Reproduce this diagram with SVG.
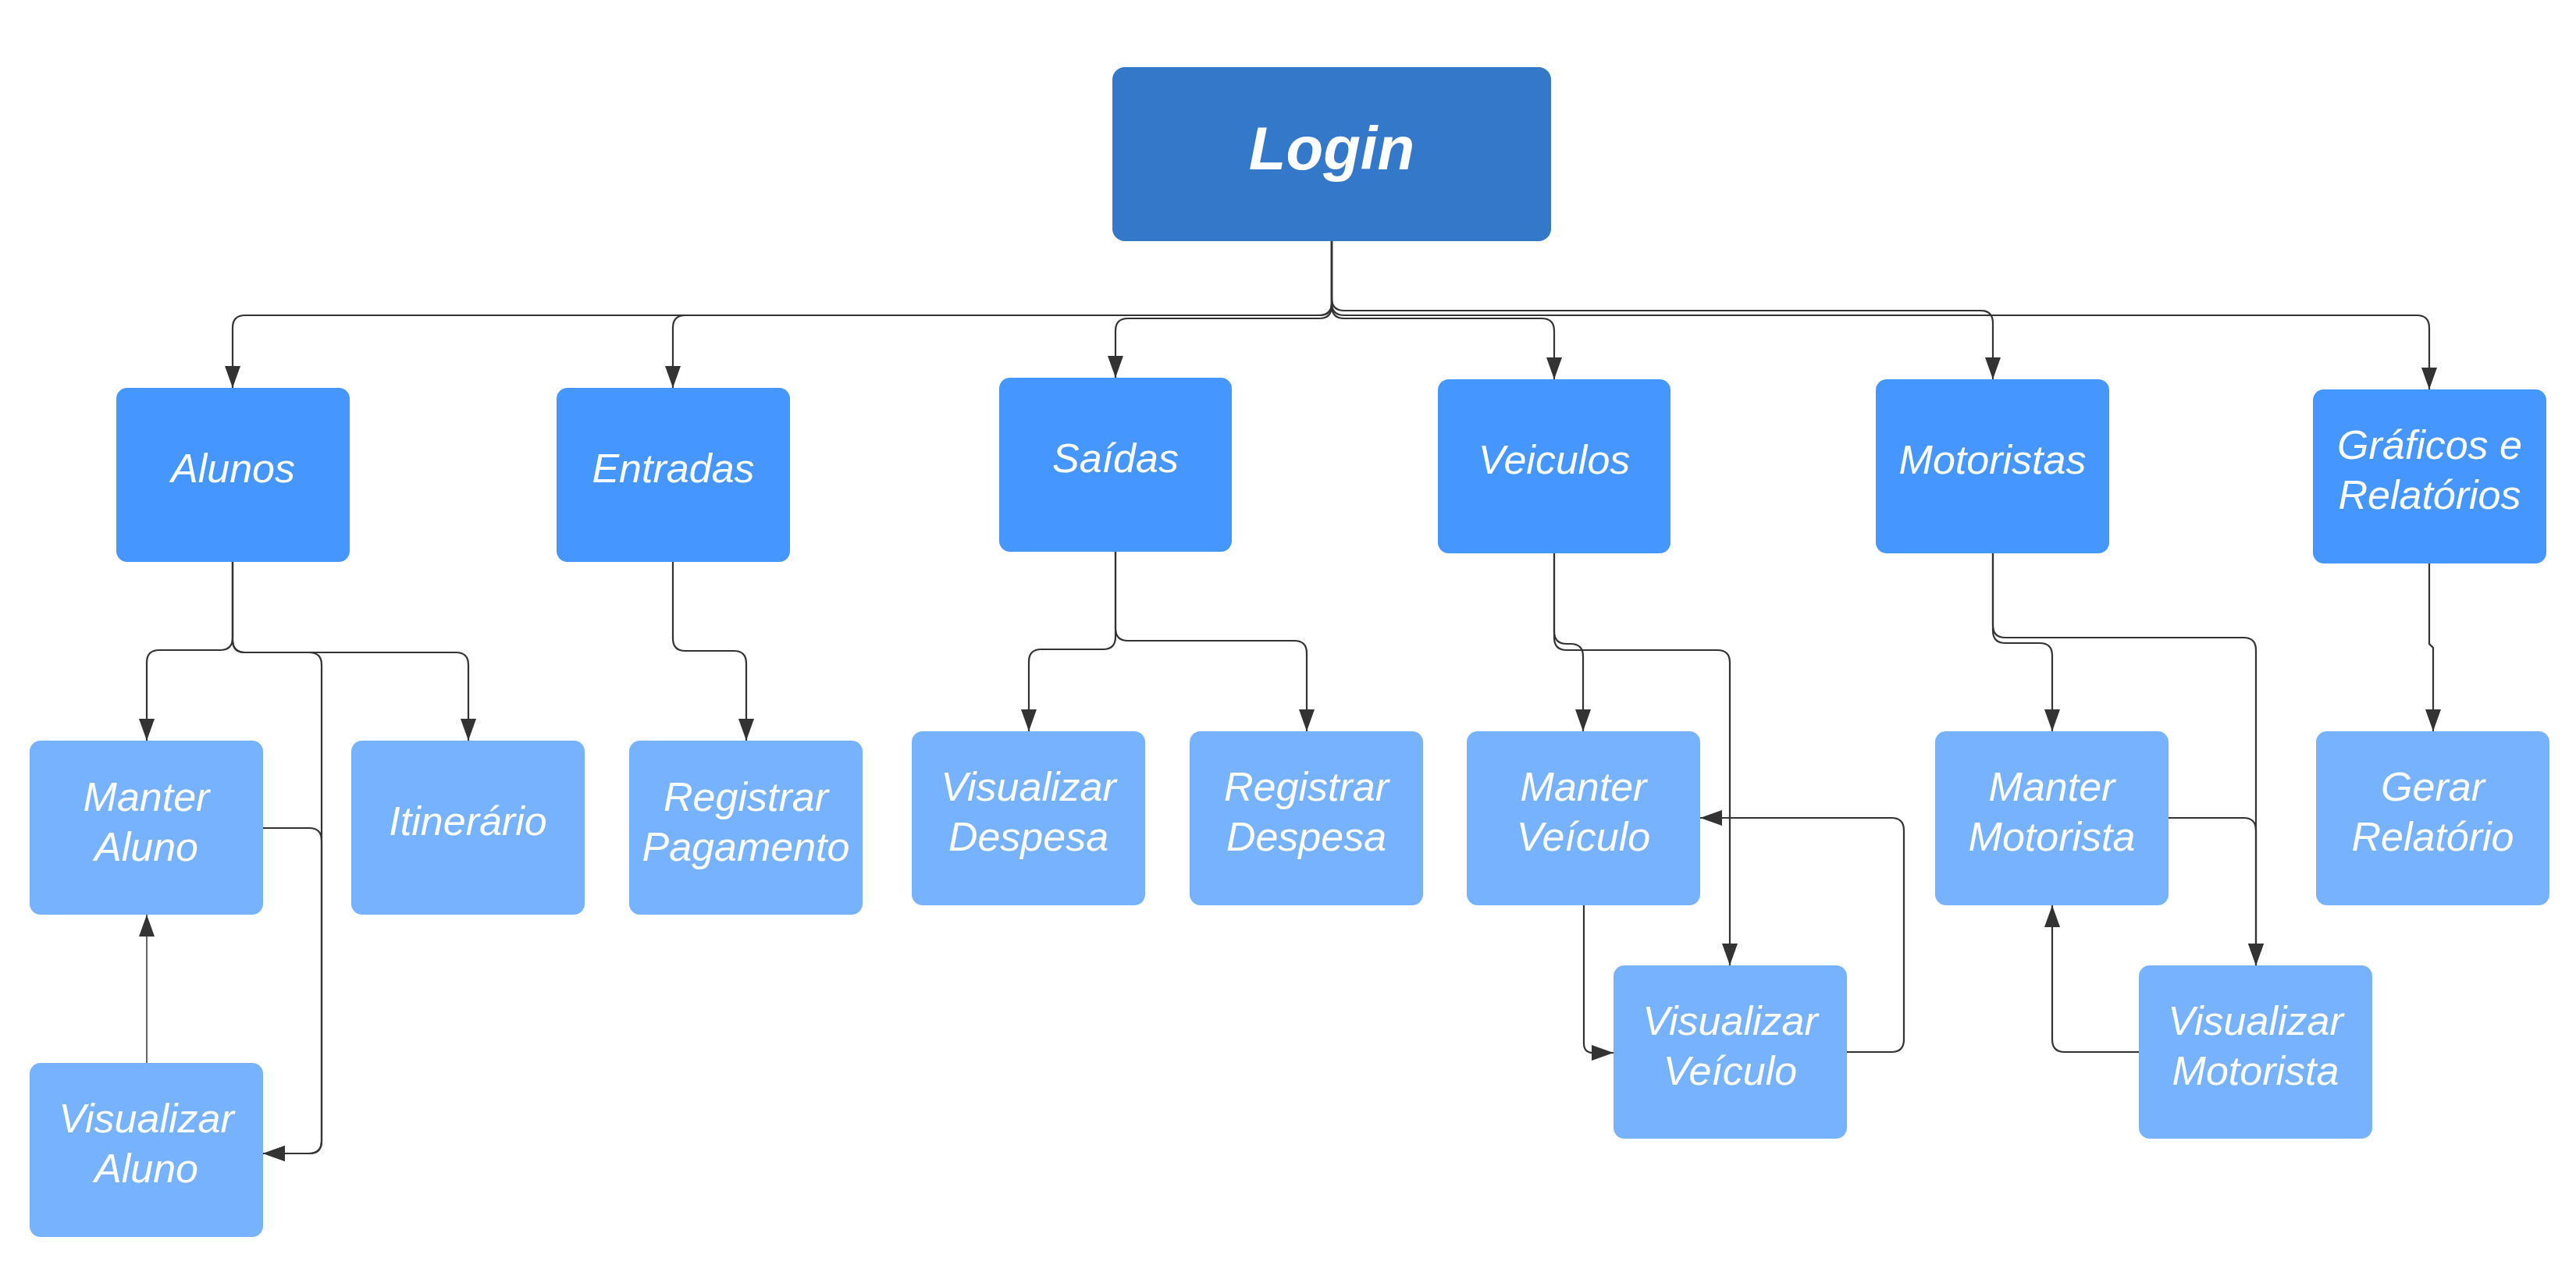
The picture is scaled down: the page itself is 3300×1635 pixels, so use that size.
<svg xmlns="http://www.w3.org/2000/svg" width="3300" height="1635" viewBox="0 0 3300 1635">
<style>
.bg{fill:#ffffff}
.n0{fill:#3378C9}
.n1{fill:#4597FF}
.n2{fill:#77B2FF}
.t{font-family:"Liberation Sans",Arial,sans-serif;font-style:italic;fill:#ffffff;text-anchor:middle;font-size:52px}
.tb{font-family:"Liberation Sans",Arial,sans-serif;font-style:italic;font-weight:bold;fill:#ffffff;text-anchor:middle;font-size:78px}
.c{fill:none;stroke:#333333;stroke-width:2.2;marker-end:url(#ah)}
.thin{stroke-width:1.5}
</style>
<defs>
<marker id="ah" markerUnits="userSpaceOnUse" markerWidth="30" markerHeight="22" refX="28" refY="10" orient="auto">
<path d="M0,0 L28,10 L0,20 Z" fill="#333333"/>
</marker>
</defs>
<rect class="bg" x="0" y="0" width="3300" height="1635"/>

<g id="connectors">
<path class="c" d="M1706,309 V388 Q1706,404 1690,404 H314 Q298,404 298,420 V497"/>
<path class="c" d="M1706,309 V388 Q1706,404 1690,404 H878 Q862,404 862,420 V497"/>
<path class="c" d="M1706,309 V392 Q1706,408 1690,408 H1445 Q1429,408 1429,424 V484"/>
<path class="c" d="M1706,309 V392 Q1706,408 1722,408 H1975 Q1991,408 1991,424 V486"/>
<path class="c" d="M1706,309 V382 Q1706,398 1722,398 H2537 Q2553,398 2553,414 V486"/>
<path class="c" d="M1706,309 V388 Q1706,404 1722,404 H3096 Q3112,404 3112,420 V499"/>

<path class="c" d="M298,720 V817 Q298,833 282,833 H204 Q188,833 188,849 V949"/>
<path class="c" d="M298,720 V820 Q298,836 314,836 H584 Q600,836 600,852 V949"/>
<path class="c" d="M298,720 V820 Q298,836 314,836 H396 Q412,836 412,852 V1462 Q412,1478 396,1478 H337"/>
<path class="c" d="M337,1061 H396 Q412,1061 412,1077 V1462 Q412,1478 396,1478 H337"/>
<path class="c thin" d="M188,1362 V1172"/>

<path class="c" d="M862,720 V818 Q862,834 878,834 H940 Q956,834 956,850 V949"/>

<path class="c" d="M1429,707 V816 Q1429,832 1413,832 H1334 Q1318,832 1318,848 V937"/>
<path class="c" d="M1429,707 V805 Q1429,821 1445,821 H1658 Q1674,821 1674,837 V937"/>

<path class="c" d="M1991,709 V809 Q1991,825 2007,825 H2012 Q2028,825 2028,841 V937"/>
<path class="c" d="M1991,709 V817 Q1991,833 2007,833 H2200 Q2216,833 2216,849 V1237"/>
<path class="c" d="M2029,1160 V1337 Q2029,1349 2041,1349 H2067"/>
<path class="c" d="M2366,1348 H2423 Q2439,1348 2439,1332 V1064 Q2439,1048 2423,1048 H2178"/>

<path class="c" d="M2553,709 V808 Q2553,824 2569,824 H2613 Q2629,824 2629,840 V937"/>
<path class="c" d="M2553,709 V801 Q2553,817 2569,817 H2874 Q2890,817 2890,833 V1237"/>
<path class="c" d="M2778,1048 H2874 Q2890,1048 2890,1064 V1237"/>
<path class="c" d="M2740,1348 H2645 Q2629,1348 2629,1332 V1160"/>

<path class="c" d="M3112,722 V825 L3117,830 V937"/>
</g>

<g id="login"><rect class="n0" x="1425" y="86" width="562" height="223" rx="16"/><text class="tb" x="1706" y="217">Login</text></g>

<g id="alunos"><rect class="n1" x="149" y="497" width="299" height="223" rx="14"/><text class="t" x="298.5" y="618">Alunos</text></g>
<g id="entradas"><rect class="n1" x="713" y="497" width="299" height="223" rx="14"/><text class="t" x="862.5" y="618">Entradas</text></g>
<g id="saidas"><rect class="n1" x="1280" y="484" width="298" height="223" rx="14"/><text class="t" x="1429" y="605">Saídas</text></g>
<g id="veiculos"><rect class="n1" x="1842" y="486" width="298" height="223" rx="14"/><text class="t" x="1991" y="607">Veiculos</text></g>
<g id="motoristas"><rect class="n1" x="2403" y="486" width="299" height="223" rx="14"/><text class="t" x="2552.5" y="607">Motoristas</text></g>
<g id="graficos"><rect class="n1" x="2963" y="499" width="299" height="223" rx="14"/><text class="t" x="3112.5" y="588">Gráficos e</text><text class="t" x="3112.5" y="652">Relatórios</text></g>

<g id="manter-aluno"><rect class="n2" x="38" y="949" width="299" height="223" rx="14"/><text class="t" x="187.5" y="1039">Manter</text><text class="t" x="187.5" y="1103">Aluno</text></g>
<g id="itinerario"><rect class="n2" x="450" y="949" width="299" height="223" rx="14"/><text class="t" x="599.5" y="1070">Itinerário</text></g>
<g id="registrar-pagamento"><rect class="n2" x="806" y="949" width="299" height="223" rx="14"/><text class="t" x="955.5" y="1039">Registrar</text><text class="t" x="955.5" y="1103">Pagamento</text></g>
<g id="visualizar-despesa"><rect class="n2" x="1168" y="937" width="299" height="223" rx="14"/><text class="t" x="1317.5" y="1026">Visualizar</text><text class="t" x="1317.5" y="1090">Despesa</text></g>
<g id="registrar-despesa"><rect class="n2" x="1524" y="937" width="299" height="223" rx="14"/><text class="t" x="1673.5" y="1026">Registrar</text><text class="t" x="1673.5" y="1090">Despesa</text></g>
<g id="manter-veiculo"><rect class="n2" x="1879" y="937" width="299" height="223" rx="14"/><text class="t" x="2028.5" y="1026">Manter</text><text class="t" x="2028.5" y="1090">Veículo</text></g>
<g id="manter-motorista"><rect class="n2" x="2479" y="937" width="299" height="223" rx="14"/><text class="t" x="2628.5" y="1026">Manter</text><text class="t" x="2628.5" y="1090">Motorista</text></g>
<g id="gerar-relatorio"><rect class="n2" x="2967" y="937" width="299" height="223" rx="14"/><text class="t" x="3116.5" y="1026">Gerar</text><text class="t" x="3116.5" y="1090">Relatório</text></g>
<g id="visualizar-aluno"><rect class="n2" x="38" y="1362" width="299" height="223" rx="14"/><text class="t" x="187.5" y="1451">Visualizar</text><text class="t" x="187.5" y="1515">Aluno</text></g>
<g id="visualizar-veiculo"><rect class="n2" x="2067" y="1237" width="299" height="222" rx="14"/><text class="t" x="2216.5" y="1326">Visualizar</text><text class="t" x="2216.5" y="1390">Veículo</text></g>
<g id="visualizar-motorista"><rect class="n2" x="2740" y="1237" width="299" height="222" rx="14"/><text class="t" x="2889.5" y="1326">Visualizar</text><text class="t" x="2889.5" y="1390">Motorista</text></g>
</svg>
